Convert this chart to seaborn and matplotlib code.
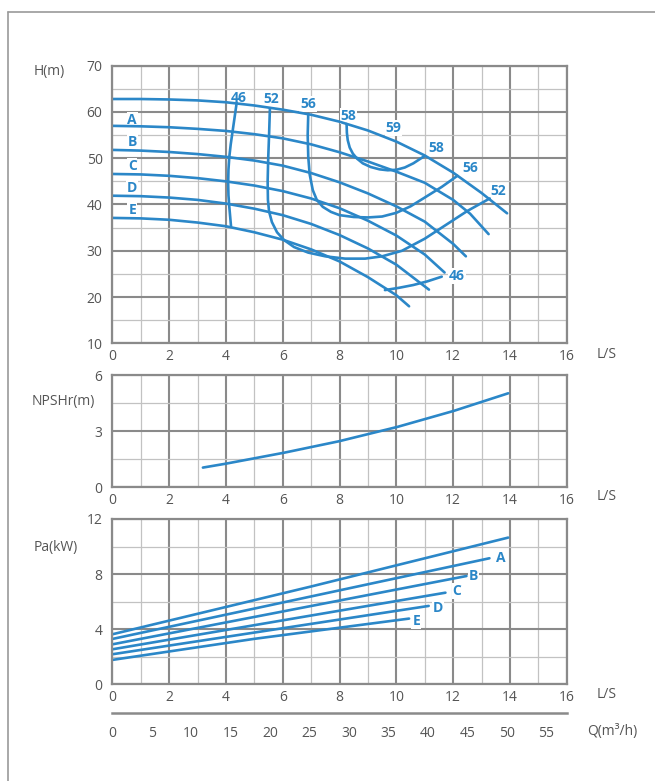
import matplotlib
matplotlib.use("Agg")
import matplotlib.pyplot as plt
import seaborn as sns
import pandas as pd
from matplotlib.lines import Line2D
from matplotlib.ticker import MultipleLocator

sns.set_theme(style="white")
plt.rcParams['font.family'] = ['Open Sans', 'DejaVu Sans']

BLUE = "#2b87c8"
MAJ = "#8a8a8a"
MINC = "#c2c2c2"
TXT = "#555555"

# ---------------- data: head curves (Q in L/S, H in m) ----------------
q_top = [0, 1, 2, 3, 4, 5, 6, 7, 8, 9, 10, 11, 12, 13, 13.9]
h_top = [62.8, 62.8, 62.7, 62.5, 62.1, 61.4, 60.5, 59.4, 57.9, 56.0, 53.6, 50.6, 46.9, 42.5, 38.1]
q_A = [0, 1, 2, 3, 4, 5, 6, 7, 8, 9, 10, 11, 12, 12.6, 13.25]
h_A = [57.0, 56.9, 56.7, 56.35, 55.9, 55.2, 54.3, 53.0, 51.3, 49.3, 47.1, 44.7, 41.0, 38.0, 33.6]
q_B = [0, 1, 2, 3, 4, 5, 6, 7, 8, 9, 10, 11, 12, 12.45]
h_B = [51.8, 51.65, 51.35, 50.9, 50.3, 49.5, 48.4, 46.8, 44.8, 42.4, 39.6, 36.3, 31.5, 28.8]
q_C = [0, 1, 2, 3, 4, 5, 6, 7, 8, 9, 10, 11, 11.7]
h_C = [46.6, 46.5, 46.2, 45.7, 45.0, 44.1, 42.9, 41.3, 39.2, 36.5, 33.3, 29.2, 25.3]
q_D = [0, 1, 2, 3, 4, 5, 6, 7, 8, 9, 10, 11.15]
h_D = [41.9, 41.8, 41.5, 41.0, 40.2, 39.1, 37.7, 35.8, 33.4, 30.5, 27.0, 21.6]
q_E = [0, 1, 2, 3, 4, 5, 6, 7, 8, 9, 10, 10.45]
h_E = [37.1, 37.0, 36.7, 36.1, 35.3, 34.0, 32.4, 30.3, 27.7, 24.3, 20.4, 18.0]

# efficiency iso-curves
q_e46a = [4.38, 4.31, 4.24, 4.17, 4.12, 4.09, 4.08, 4.09, 4.12, 4.18]
h_e46a = [62.0, 59.0, 56.0, 53.0, 50.3, 47.5, 44.6, 42.0, 39.5, 35.3]
q_e46b = [9.6, 10.1, 10.6, 11.1, 11.6]
h_e46b = [21.5, 22.0, 22.6, 23.4, 24.4]
q_e52 = [5.55, 5.52, 5.49, 5.47, 5.48, 5.52, 5.62, 5.8, 6.05, 6.4, 6.9, 7.5, 8.2, 8.9,
         9.5, 10.2, 11.0, 11.7, 12.5, 13.29]
h_e52 = [60.8, 55.0, 50.0, 45.0, 41.0, 38.5, 36.2, 34.0, 32.3, 30.8, 29.6, 28.8, 28.3, 28.3,
         28.8, 30.0, 32.6, 35.4, 38.6, 41.3]
q_e56 = [6.9, 6.88, 6.9, 6.95, 7.06, 7.2, 7.41, 7.7, 8.0, 8.5, 9.0, 9.5, 10.0, 10.5, 11.0,
         11.6, 12.15]
h_e56 = [59.6, 55.0, 50.3, 46.5, 43.1, 41.0, 39.5, 38.4, 37.7, 37.3, 37.2, 37.4, 38.2, 39.6,
         41.5, 43.8, 46.2]
q_e58 = [8.25, 8.26, 8.29, 8.36, 8.47, 8.62, 8.82, 9.1, 9.41, 9.7, 10.0, 10.3, 10.6, 11.0]
h_e58 = [57.4, 55.5, 53.9, 52.3, 51.0, 49.9, 48.9, 48.1, 47.6, 47.4, 47.5, 48.0, 48.9, 50.5]

curve_names = ["A", "B", "C", "D", "E"]
name_q = [0.7, 0.7, 0.7, 0.7, 0.7]
name_h = [58.3, 53.6, 48.3, 43.5, 38.8]

eff_labels = ["46", "52", "56", "58", "59", "58", "56", "52", "46"]
eff_q = [4.45, 5.61, 6.9, 8.31, 9.9, 11.41, 12.6, 13.6, 12.14]
eff_h = [63.1, 62.8, 61.65, 59.1, 56.5, 52.3, 47.8, 43.0, 24.6]

# NPSHr
q_npsh = [3.19, 4, 6.06, 7.98, 10.04, 12.03, 13.94]
v_npsh = [1.04, 1.25, 1.84, 2.45, 3.22, 4.08, 5.02]

# shaft power
q_p_top = [0, 7, 13.94]
p_top = [3.63, 7.1, 10.65]
q_pA = [0, 13.28]
p_A = [3.29, 9.15]
q_pB = [0, 12.47]
p_B = [2.90, 7.86]
q_pC = [0, 11.73]
p_C = [2.54, 6.65]
q_pD = [0, 11.14]
p_D = [2.18, 5.69]
q_pE = [0, 5, 10.45]
p_E = [1.77, 3.3, 4.77]
p_lab_q = [13.69, 12.73, 12.14, 11.46, 10.7]
p_lab_v = [9.19, 7.89, 6.77, 5.56, 4.6]

q_m3h_ticks = [0, 5, 10, 15, 20, 25, 30, 35, 40, 45, 50, 55]


def frame(pairs):
    rows = []
    for name, qs, vs in pairs:
        for i, (q, v) in enumerate(zip(qs, vs)):
            rows.append({"curve": name, "Q": q, "V": v, "order": i})
    return pd.DataFrame(rows)


head_df = frame([("top", q_top, h_top), ("A", q_A, h_A), ("B", q_B, h_B),
                 ("C", q_C, h_C), ("D", q_D, h_D), ("E", q_E, h_E),
                 ("e46a", q_e46a, h_e46a), ("e46b", q_e46b, h_e46b),
                 ("e52", q_e52, h_e52), ("e56", q_e56, h_e56), ("e58", q_e58, h_e58)])
npsh_df = frame([("npsh", q_npsh, v_npsh)])
pow_df = frame([("top", q_p_top, p_top), ("A", q_pA, p_A), ("B", q_pB, p_B),
                ("C", q_pC, p_C), ("D", q_pD, p_D), ("E", q_pE, p_E)])

W, HH = 655, 781
fig = plt.figure(figsize=(W / 100, HH / 100), dpi=100)


def ax_at(x0, y0, x1, y1):
    return fig.add_axes([x0 / W, 1 - y1 / HH, (x1 - x0) / W, (y1 - y0) / HH])


def style(ax, ylo, yhi, ymaj, ymin):
    ax.set_xlim(0, 16)
    ax.set_ylim(ylo, yhi)
    ax.xaxis.set_major_locator(MultipleLocator(2))
    ax.xaxis.set_minor_locator(MultipleLocator(1))
    ax.yaxis.set_major_locator(MultipleLocator(ymaj))
    ax.yaxis.set_minor_locator(MultipleLocator(ymin))
    ax.grid(which='minor', color=MINC, lw=0.9)
    ax.grid(which='major', color=MAJ, lw=1.5)
    ax.set_axisbelow(True)
    for s in ax.spines.values():
        s.set_color(MAJ)
        s.set_linewidth(1.6)
    ax.tick_params(which='both', length=0, labelsize=10, labelcolor=TXT)
    ax.tick_params(axis='x', pad=4)
    ax.tick_params(axis='y', pad=7)
    ax.set_xlabel('')
    ax.set_ylabel('')


lw = 1.9
ax1 = ax_at(112.3, 65.7, 566.7, 343.3)
sns.lineplot(data=head_df, x="Q", y="V", units="curve", estimator=None, sort=False,
             color=BLUE, lw=lw, ax=ax1, zorder=2)
style(ax1, 10, 70, 10, 5)

bb = dict(facecolor='white', edgecolor='none', pad=0.6)
for n, q, h in zip(curve_names, name_q, name_h):
    ax1.text(q, h, n, color=BLUE, fontweight='bold', fontsize=10, ha='center', va='center',
             bbox=bb, zorder=1.5)
for t, q, h in zip(eff_labels, eff_q, eff_h):
    ax1.text(q, h, t, color=BLUE, fontweight='bold', fontsize=10, ha='center', va='center',
             bbox=bb, zorder=1.5)

ax2 = ax_at(112.3, 375, 566.7, 487)
sns.lineplot(data=npsh_df, x="Q", y="V", units="curve", estimator=None, sort=False,
             color=BLUE, lw=lw, ax=ax2)
style(ax2, 0, 6, 3, 1.5)

ax3 = ax_at(112.3, 519, 566.7, 684.3)
sns.lineplot(data=pow_df, x="Q", y="V", units="curve", estimator=None, sort=False,
             color=BLUE, lw=lw, ax=ax3, zorder=2)
style(ax3, 0, 12, 4, 2)
for n, q, v in zip(curve_names, p_lab_q, p_lab_v):
    ax3.text(q, v, n, color=BLUE, fontweight='bold', fontsize=10, ha='center', va='center',
             bbox=bb, zorder=1.5)

# second flow axis (m3/h)
axq = fig.add_axes([112.3 / W, 1 - 713.3 / HH, (566.7 - 112.3) / W, 0.0001])
axq.set_xlim(0, 16 * 3.6)
axq.set_ylim(0, 1)
axq.set_xticks(q_m3h_ticks)
axq.set_xticklabels([str(v) for v in q_m3h_ticks])
axq.set_yticks([])
for k in ['top', 'left', 'right']:
    axq.spines[k].set_visible(False)
axq.spines['bottom'].set_color(MAJ)
axq.spines['bottom'].set_linewidth(1.8)
axq.tick_params(axis='x', direction='out', length=4, width=1.5, color=MAJ,
                labelsize=10, labelcolor=TXT, pad=5)
axq.patch.set_visible(False)


# axis titles
def ftext(x, y, s, **kw):
    fig.text(x / W, 1 - y / HH, s, color=TXT, fontsize=10, ha='center', va='center', **kw)


ftext(49, 71, "H(m)")
ftext(63, 401, "NPSHr(m)")
ftext(56, 548, "Pa(kW)")
for y in (354, 497, 694):
    ftext(607, y, "L/S")
ftext(612, 731, "Q(m³/h)")

# page frame
fig.add_artist(Line2D([8 / W, 8 / W], [1 - 12 / HH, 0], color="#9a9a9a", lw=1.2))
fig.add_artist(Line2D([8 / W, 1], [1 - 12 / HH, 1 - 12 / HH], color="#9a9a9a", lw=1.2))

fig.savefig("out.png", dpi=100)
